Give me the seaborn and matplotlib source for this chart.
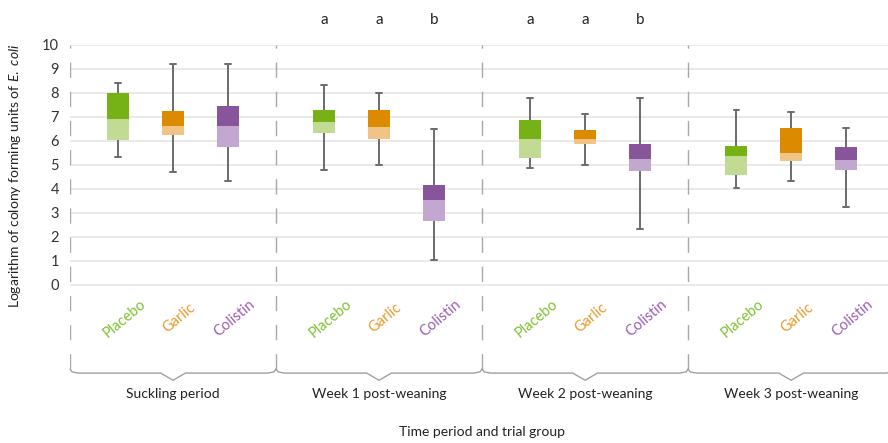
import numpy as np
import pandas as pd
import matplotlib
matplotlib.use("Agg")
import matplotlib.pyplot as plt
import seaborn as sns

periods = ["Suckling period", "Week 1 post-weaning", "Week 2 post-weaning", "Week 3 post-weaning"]
treatments = ["Placebo", "Garlic", "Colistin"]

# one value per box, period-major order (Placebo, Garlic, Colistin)
whisker_low = [5.32, 4.71, 4.33, 4.80, 5.00, 1.05, 4.88, 5.00, 2.33, 4.03, 4.33, 3.24]
q1 = [6.05, 6.26, 5.76, 6.35, 6.07, 2.68, 5.31, 5.88, 4.75, 4.58, 5.17, 4.79]
median = [6.92, 6.63, 6.63, 6.79, 6.58, 3.54, 6.08, 6.08, 5.25, 5.38, 5.50, 5.21]
q3 = [7.99, 7.25, 7.46, 7.29, 7.29, 4.17, 6.88, 6.46, 5.88, 5.79, 6.54, 5.75]
whisker_high = [8.43, 9.19, 9.22, 8.35, 8.01, 6.50, 7.79, 7.14, 7.79, 7.29, 7.19, 6.53]

# significance letters for weeks 1 and 2
letters = {1: ["a", "a", "b"], 2: ["a", "a", "b"]}

dark = ["#76B116", "#DC8B00", "#88559B"]
light = ["#C1DA94", "#F0C386", "#C2A7CF"]
label_colors = ["#7FC031", "#E99A2C", "#9A5DB4"]

# five points per box so quartiles land exactly on the read values
rows = []
for k in range(len(q1)):
    p, t = periods[k // 3], treatments[k % 3]
    for v in (whisker_low[k], q1[k], median[k], q3[k], whisker_high[k]):
        rows.append({"period": p, "treatment": t, "value": v})
df = pd.DataFrame(rows)

sns.set_theme(style="white")
plt.rcParams["font.family"] = ["Lato", "DejaVu Sans"]
plt.rcParams["mathtext.fontset"] = "custom"
plt.rcParams["mathtext.it"] = "Lato:italic"
plt.rcParams["mathtext.rm"] = "Lato"

fig = plt.figure(figsize=(8.88, 4.43), dpi=100)
ymin, ymax = -4.1, 10
ax = fig.add_axes([70 / 888, (443 - 383.4) / 443, 818 / 888, (383.4 - 45) / 443])

width, gap = 0.8, 0.6
sns.boxplot(data=df, x="period", y="value", hue="treatment", order=periods,
            hue_order=treatments, palette=dark, saturation=1, width=width, gap=gap,
            whis=(0, 100), linecolor="#6b6b6b", linewidth=1.4, showfliers=False,
            boxprops={"linewidth": 0}, medianprops={"linewidth": 0},
            capwidths=0.026, legend=False, ax=ax)

step = width / len(treatments)
box_w = step * (1 - gap)
for k in range(len(q1)):
    i, j = k // 3, k % 3
    x = i + (j - 1) * step
    ax.bar(x, median[k] - q1[k], bottom=q1[k], width=box_w, color=light[j],
           linewidth=0, zorder=2.5)
    ax.text(x + 0.03, -1.38, treatments[j], rotation=40, ha="center", va="center",
            color=label_colors[j], fontsize=10.5)
    if i in letters:
        ax.text(x, 11.05, letters[i][j], ha="center", va="center", fontsize=11,
                color="#222222", clip_on=False)

# dashed separators and bottom braces
ax.vlines([-0.5, 0.5, 1.5, 2.5], -3.5, ymax, color="#a8a8a8", linewidth=1,
          linestyles=(0, (11, 10)), zorder=1)
for i in range(len(periods)):
    bx = [i - 0.5, i - 0.49, i - 0.46, i - 0.06, i, i + 0.06, i + 0.46, i + 0.49, i + 0.5]
    by = [-3.5, -3.62, -3.67, -3.67, -3.97, -3.67, -3.67, -3.62, -3.5]
    ax.plot(bx, by, color="#a0a0a0", linewidth=1, clip_on=False)

ax.set_ylim(ymin, ymax)
ax.set_xlim(-0.5, 3.47)
ax.set_yticks(range(0, 11))
ax.set_yticklabels([str(v) for v in range(0, 11)], fontsize=10.5, color="#333333")
ax.set_xticks(range(len(periods)))
ax.set_xticklabels(periods, fontsize=10, color="#222222")
ax.tick_params(axis="both", length=0)
ax.tick_params(axis="y", pad=8)
ax.tick_params(axis="x", pad=3)
ax.set_xlabel("")
ax.set_ylabel("")
ax.grid(axis="y", color="#e4e4e4", linewidth=1.1)
ax.set_axisbelow(True)
for s in ax.spines.values():
    s.set_visible(False)

fig.text(15 / 888, (443 - 176) / 443, r"Logarithm of colony forming units of $\it{E.\ coli}$",
         rotation=90, ha="center", va="center", fontsize=10, color="#222222")
fig.text(482 / 888, (443 - 432) / 443, "Time period and trial group",
         ha="center", va="center", fontsize=10, color="#222222")

fig.savefig("out.png", dpi=100)
